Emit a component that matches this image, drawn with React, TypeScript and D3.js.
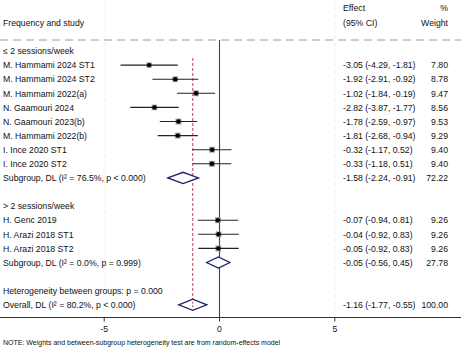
import React from "react";
import * as d3 from "d3";

const rowLabels = [
  "≤ 2 sessions/week",
  "M. Hammami 2024 ST1",
  "M. Hammami 2024 ST2",
  "M. Hammami 2022(a)",
  "N. Gaamouri 2024",
  "N. Gaamouri 2023(b)",
  "M. Hammami 2022(b)",
  "I. Ince 2020 ST1",
  "I. Ince 2020 ST2",
  "Subgroup, DL (I² = 76.5%, p < 0.000)",
  "",
  "> 2 sessions/week",
  "H. Genc 2019",
  "H. Arazi 2018 ST1",
  "H. Arazi 2018 ST2",
  "Subgroup, DL (I² = 0.0%, p = 0.999)",
  "",
  "Heterogeneity between groups: p = 0.000",
  "Overall, DL (I² = 80.2%, p < 0.000)",
];
// type: h=heading, s=study, d=subgroup diamond, o=overall diamond, t=text only, b=blank
const rowTypes = ["h", "s", "s", "s", "s", "s", "s", "s", "s", "d", "b", "h", "s", "s", "s", "d", "b", "t", "o"];
const effects = [NaN, -3.05, -1.92, -1.02, -2.82, -1.78, -1.81, -0.32, -0.33, -1.58, NaN, NaN, -0.07, -0.04, -0.05, -0.05, NaN, NaN, -1.16];
const lower = [NaN, -4.29, -2.91, -1.84, -3.87, -2.59, -2.68, -1.17, -1.18, -2.24, NaN, NaN, -0.94, -0.92, -0.92, -0.56, NaN, NaN, -1.77];
const upper = [NaN, -1.81, -0.92, -0.19, -1.77, -0.97, -0.94, 0.52, 0.51, -0.91, NaN, NaN, 0.81, 0.83, 0.83, 0.45, NaN, NaN, -0.55];
const weights = [NaN, 7.8, 8.78, 9.47, 8.56, 9.53, 9.29, 9.4, 9.4, 72.22, NaN, NaN, 9.26, 9.26, 9.26, 27.78, NaN, NaN, 100.0];
const xTicks = [-5, 0, 5];

const FONT = "'Liberation Sans', Arial, Helvetica, sans-serif";

export default function App() {
  const W = 461, H = 349;
  const x = d3.scaleLinear().domain([-5, 5]).range([104.2, 334.8]);
  const y = (i: number) => 51 + 14.1 * i;
  const fs = 8.7;
  const overall = effects[18];
  const size = d3.scaleSqrt().domain([0, 10]).range([0, 6]);

  return (
    <svg width={W} height={H} style={{ position: "absolute", left: 0, top: 0, background: "#fff" }}>
      {/* faint grid */}
      {[-5, 5].map((v) => (
        <line key={"g" + v} x1={x(v)} x2={x(v)} y1={0} y2={317} stroke="#ebebeb" strokeWidth={0.8} strokeDasharray="4,3" />
      ))}
      {/* header */}
      <g fontFamily={FONT} fontSize={fs} fill="#111">
        <text x={3} y={26}>Frequency and study</text>
        <text x={343} y={11}>Effect</text>
        <text x={343} y={26}>(95% CI)</text>
        <text x={448} y={11} textAnchor="end">%</text>
        <text x={448} y={26} textAnchor="end">Weight</text>
      </g>
      <line x1={0} x2={W} y1={40} y2={40} stroke="#9a9a9a" strokeWidth={1} strokeDasharray="8,5" />
      {/* zero line */}
      <line x1={x(0)} x2={x(0)} y1={40} y2={317} stroke="#444" strokeWidth={1.1} />
      {/* overall effect line */}
      <line x1={x(overall)} x2={x(overall)} y1={58} y2={y(18) + 4} stroke="#b22a4a" strokeWidth={0.9} strokeDasharray="3,2" />
      {/* rows */}
      {rowLabels.map((lab, i) => {
        const t = rowTypes[i];
        const cy = y(i);
        const txtY = cy + 3.2;
        const els: React.ReactNode[] = [];
        if (lab) {
          els.push(
            <text key="l" x={3} y={txtY} fontFamily={FONT} fontSize={fs} fill="#111">
              {lab}
            </text>
          );
        }
        if (t === "s" || t === "d" || t === "o") {
          els.push(
            <text key="e" x={343} y={txtY} fontFamily={FONT} fontSize={fs} fill="#111">
              {`${effects[i].toFixed(2)} (${lower[i].toFixed(2)}, ${upper[i].toFixed(2)})`}
            </text>
          );
          els.push(
            <text key="w" x={448} y={txtY} fontFamily={FONT} fontSize={fs} fill="#111" textAnchor="end">
              {weights[i].toFixed(2)}
            </text>
          );
        }
        if (t === "s") {
          const s = size(weights[i]);
          els.push(<rect key="b" x={x(effects[i]) - s / 2} y={cy - s / 2} width={s} height={s} fill="#9a9a9a" />);
          els.push(<line key="ci" x1={x(lower[i])} x2={x(upper[i])} y1={cy} y2={cy} stroke="#222" strokeWidth={1.1} />);
          els.push(<circle key="c" cx={x(effects[i])} cy={cy} r={2.2} fill="#000" />);
        }
        if (t === "d" || t === "o") {
          const h = 5.6;
          const pts = [
            [x(lower[i]), cy],
            [x(effects[i]), cy - h],
            [x(upper[i]), cy],
            [x(effects[i]), cy + h],
          ];
          els.push(
            <polygon key="dm" points={pts.map((p) => p.join(",")).join(" ")} fill="#fff" stroke="#1c1f6b" strokeWidth={1.3} />
          );
          if (t === "o") {
            els.push(
              <line key="ol" x1={x(overall)} x2={x(overall)} y1={cy - 3} y2={cy + 3} stroke="#b22a4a" strokeWidth={0.9} strokeDasharray="2,1.5" />
            );
          }
        }
        return <g key={i}>{els}</g>;
      })}
      {/* axis */}
      <line x1={0} x2={W} y1={317.5} y2={317.5} stroke="#333" strokeWidth={1} />
      {xTicks.map((v) => (
        <g key={v}>
          <line x1={x(v)} x2={x(v)} y1={317.5} y2={321.5} stroke="#333" strokeWidth={1} />
          <text x={x(v)} y={331.5} textAnchor="middle" fontFamily={FONT} fontSize={fs} fill="#111">
            {v}
          </text>
        </g>
      ))}
      <text x={3} y={345} fontFamily={FONT} fontSize={7} fill="#111">
        NOTE: Weights and between-subgroup heterogeneity test are from random-effects model
      </text>
    </svg>
  );
}
